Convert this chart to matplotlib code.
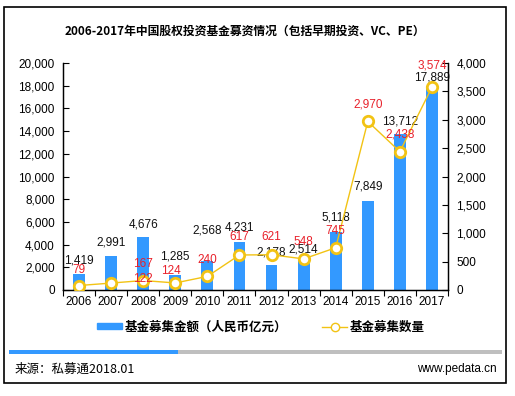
import numpy as np
import matplotlib.pyplot as plt
from matplotlib.lines import Line2D
from matplotlib.patches import Rectangle

plt.rcParams['font.family'] = ['Liberation Sans', 'Noto Sans CJK SC', 'DejaVu Sans']

years = ['2006', '2007', '2008', '2009', '2010', '2011',
         '2012', '2013', '2014', '2015', '2016', '2017']
amount = [1419, 2991, 4676, 1285, 2568, 4231, 2178, 2514, 5118, 7849, 13712, 17889]
count = [79, 122, 167, 124, 240, 617, 621, 548, 745, 2970, 2438, 3574]

# label nudges in pixels (the source chart had a few labels dragged by hand)
amount_dy = [13, 14, 12, 19, 30, 14, 13, 12, 14, 14, 13, 9]
count_dx = [0, 32, 0, -4, 0, 0, 0, 0, 0, 0, 0, 0]
count_dy = [16, 4, 17, 12, 16, 18, 18, 17, 17, 17, 17, 22]

bar_color = '#3399FF'
line_color = '#F2C314'
red = '#E8202A'

fig = plt.figure(figsize=(5.15, 3.96), dpi=100)
ax = fig.add_axes([63/515, 1-290/396, (448-63)/515, (290-63)/396])
ax2 = ax.twinx()

x = np.arange(len(years))
ax.bar(x, amount, width=0.37, color=bar_color, zorder=2)
ax2.plot(x, count, color=line_color, lw=1, marker='o', ms=7.5,
         mfc='white', mec=line_color, mew=2, zorder=3)

ax.set_xlim(-0.5, len(years) - 0.5)
ax.set_ylim(0, 20000)
ax2.set_ylim(0, 4000)
ax.set_yticks(np.arange(0, 20001, 2000))
ax.set_yticklabels([f'{v:,}' for v in range(0, 20001, 2000)])
ax2.set_yticks(np.arange(0, 4001, 500))
ax2.set_yticklabels([f'{v:,}' for v in range(0, 4001, 500)])

ax.set_xticks(x)
ax.set_xticklabels(years)
ax.set_xticks(np.arange(-0.5, len(years), 1), minor=True)
ax.tick_params(axis='x', which='major', length=0, labelsize=8.5, pad=4)
ax.tick_params(axis='x', which='minor', length=4, direction='out', width=0.8)
ax.tick_params(axis='y', direction='in', length=4, labelsize=8.5, pad=6)
ax2.tick_params(axis='y', direction='in', length=4, labelsize=8.5, pad=6)

for a in (ax, ax2):
    a.spines['top'].set_visible(False)
    for s in ('left', 'right', 'bottom'):
        a.spines[s].set_linewidth(0.9)
ax.patch.set_visible(False)
ax.set_zorder(ax2.get_zorder() - 1)
ax2.patch.set_visible(False)

for i, v in enumerate(amount):
    ax.annotate(f'{v:,}', (x[i], v), xytext=(0, amount_dy[i] * 0.72),
                textcoords='offset points', ha='center', va='center',
                fontsize=8.5, color='#111111', zorder=5)
for i, v in enumerate(count):
    ax2.annotate(f'{v:,}', (x[i], v), xytext=(count_dx[i] * 0.72, count_dy[i] * 0.72),
                 textcoords='offset points', ha='center', va='center',
                 fontsize=8.5, color=red, zorder=6)

fig.text(245/515, 1 - 31/396, '2006-2017年中国股权投资基金募资情况（包括早期投资、VC、PE）',
         ha='center', va='center', fontsize=8.5, fontweight='bold',
         family=['Noto Sans CJK SC', 'DejaVu Sans'])

# legend
handles = [Rectangle((0, 0), 1, 1, color=bar_color),
           Line2D([], [], color=line_color, lw=1, marker='o', ms=6,
                  mfc='white', mec=line_color, mew=1)]
leg = fig.legend(handles, ['基金募集金额（人民币亿元）', '基金募集数量'],
                 loc='center', bbox_to_anchor=(261/515, 1 - 327/396), ncol=2,
                 frameon=False, handlelength=2.0, handleheight=0.35,
                 columnspacing=2.8, handletextpad=0.2,
                 prop={'family': ['Noto Sans CJK SC', 'DejaVu Sans'],
                       'weight': 'bold', 'size': 9})

# bottom strip
fig.add_artist(Rectangle((9/515, 1 - 354/396), (502-9)/515, 4/396,
                         transform=fig.transFigure, color='#BFBFBF', lw=0))
fig.add_artist(Rectangle((9/515, 1 - 354/396), (178-9)/515, 4/396,
                         transform=fig.transFigure, color=bar_color, lw=0))
fig.text(15/515, 1 - 369/396, '来源：私募通2018.01', ha='left', va='center',
         fontsize=9, family=['Noto Sans CJK SC', 'DejaVu Sans'])
fig.text(497/515, 1 - 369/396, 'www.pedata.cn', ha='right', va='center',
         fontsize=8.5)

# outer frame
fig.add_artist(Rectangle((4/515, 1 - 383/396), (506-4)/515, (383-7)/396,
                         transform=fig.transFigure, fill=False,
                         edgecolor='black', lw=1.2))

fig.savefig('out.png', dpi=100)
